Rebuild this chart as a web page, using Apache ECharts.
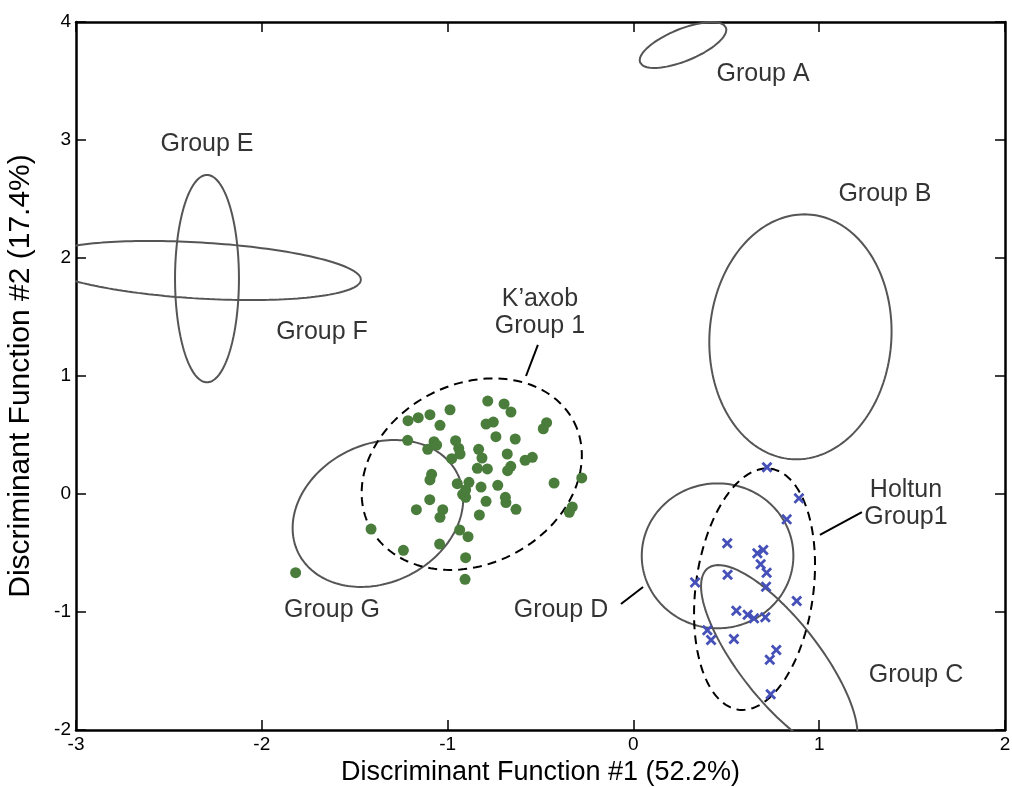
<!DOCTYPE html>
<html>
<head>
<meta charset="utf-8">
<script src="https://cdn.jsdelivr.net/npm/echarts@6/dist/echarts.min.js"></script>
<style>
  html, body { margin: 0; padding: 0; background: #fff; }
  #chart { width: 1012px; height: 787px; }
</style>
</head>
<body>
<div id="chart"></div>
<script>
// K'axob Group 1 samples (green dots)
var kaxobX = [-0.784, -0.696, -0.659, -0.987, -1.095, -1.158, -1.213, -1.041, -0.793, -0.754,
  -0.467, -0.485, -1.215, -1.073, -1.059, -1.107, -0.957, -0.940, -0.933, -0.978,
  -0.740, -0.636, -0.833, -0.815, -0.679, -0.583, -0.544, -0.840, -0.786, -0.660,
  -0.677, -1.086, -1.095, -0.948, -0.885, -0.903, -0.820, -0.730, -0.427, -0.278,
  -0.919, -0.903, -0.793, -0.689, -0.686, -0.632, -1.096, -1.168, -1.026, -1.041,
  -0.829, -0.329, -0.345, -1.412, -0.935, -0.890, -1.238, -1.043, -0.903, -0.906, -1.818];
var kaxobY = [0.788, 0.763, 0.695, 0.714, 0.672, 0.647, 0.621, 0.582, 0.593, 0.610,
  0.604, 0.553, 0.455, 0.443, 0.415, 0.379, 0.452, 0.387, 0.339, 0.299,
  0.486, 0.466, 0.379, 0.305, 0.339, 0.285, 0.311, 0.218, 0.212, 0.235,
  0.198, 0.167, 0.119, 0.087, 0.099, 0.034, 0.059, 0.074, 0.093, 0.136,
  -0.003, -0.028, -0.062, -0.028, -0.073, -0.130, -0.048, -0.133, -0.133, -0.198,
  -0.178, -0.110, -0.155, -0.297, -0.305, -0.362, -0.477, -0.424, -0.540, -0.723, -0.667];

// Holtun Group1 samples (blue crosses)
var holtunX = [0.719, 0.891, 0.825, 0.505, 0.667, 0.699, 0.685, 0.717, 0.507, 0.332, 0.714,
  0.879, 0.554, 0.615, 0.649, 0.710, 0.398, 0.418, 0.541, 0.769, 0.734, 0.739];
var holtunY = [0.226, -0.037, -0.215, -0.418, -0.503, -0.475, -0.596, -0.667, -0.684, -0.749, -0.785,
  -0.907, -0.989, -1.023, -1.054, -1.045, -1.155, -1.237, -1.229, -1.322, -1.404, -1.697];

// confidence ellipses: centre + two conjugate semi-axis vectors (data units)
var ellNames  = ['A', 'B', 'C', 'D', 'E', 'F', 'G', 'Kaxob', 'Holtun'];
var ellCx     = [0.267, 0.899, 0.785, 0.453, -2.295, -2.333, -1.375, -0.870, 0.652];
var ellCy     = [3.805, 1.332, -1.405, -0.524, 1.825, 1.894, -0.165, 0.168, -0.807];
var ellUx     = [0.231, 0.0215, 0.385, 0.408, 0.172, 0.867, 0.428, 0.549, 0.0861];
var ellUy     = [0.148, 1.038, -0.775, 0, 0, -0.0805, 0.336, 0.447, 1.021];
var ellVx     = [0.032, 0.490, -0.170, 0, 0, -0.0089, 0.166, 0.223, 0.314];
var ellVy     = [-0.126, 0, -0.209, 0.614, 0.879, -0.237, -0.524, -0.677, -0.065];
var ellDashed = [false, false, false, false, false, false, false, true, true];

// group labels
var labelText = ['Group A', 'Group B', 'Group C', 'Group D', 'Group E', 'Group F', 'Group G', 'K\u2019axob\nGroup 1', 'Holtun\nGroup1'];
var labelX = [0.698, 1.354, 1.521, -0.390, -2.295, -1.676, -1.622, -0.503, 1.467];
var labelY = [3.559, 2.542, -1.534, -0.983, 2.966, 1.373, -0.983, 1.534, -0.085];

// leader lines [x1, y1, x2, y2]
var leaders = [
  [-0.514, 1.263, -0.578, 1.0],
  [1.004, -0.347, 1.230, -0.153],
  [-0.067, -0.932, 0.052, -0.788]
];

var xTicks = [-3, -2, -1, 0, 1, 2];
var yTicks = [-2, -1, 0, 1, 2, 3, 4];

function ellipsePoints(i) {
  var pts = [];
  var n = 180;
  for (var k = 0; k <= n; k++) {
    var t = 2 * Math.PI * k / n;
    pts.push([
      ellCx[i] + ellUx[i] * Math.cos(t) + ellVx[i] * Math.sin(t),
      ellCy[i] + ellUy[i] * Math.cos(t) + ellVy[i] * Math.sin(t)
    ]);
  }
  return pts;
}

var font = 'Liberation Sans, Arial, Helvetica, sans-serif';
var series = [];

ellNames.forEach(function (name, i) {
  series.push({
    name: name,
    type: 'line',
    data: ellipsePoints(i),
    showSymbol: false,
    smooth: false,
    clip: true,
    silent: true,
    lineStyle: ellDashed[i]
      ? { color: '#000', width: 2, type: [9, 6] }
      : { color: '#555', width: 2 }
  });
});

leaders.forEach(function (l) {
  series.push({
    type: 'line',
    data: [[l[0], l[1]], [l[2], l[3]]],
    showSymbol: false,
    silent: true,
    lineStyle: { color: '#000', width: 2 }
  });
});

series.push({
  name: 'Kaxob',
  type: 'scatter',
  data: kaxobX.map(function (x, i) { return [x, kaxobY[i]]; }),
  symbol: 'circle',
  symbolSize: 11,
  itemStyle: { color: '#4a7d3b', opacity: 1 },
  z: 5
});

series.push({
  name: 'Holtun',
  type: 'scatter',
  data: holtunX.map(function (x, i) { return [x, holtunY[i]]; }),
  symbol: 'path://M0,1.8 L1.8,0 L5,3.2 L8.2,0 L10,1.8 L6.8,5 L10,8.2 L8.2,10 L5,6.8 L1.8,10 L0,8.2 L3.2,5 Z',
  symbolSize: 11,
  itemStyle: { color: '#4550b8', opacity: 1 },
  z: 5
});

series.push({
  type: 'scatter',
  data: labelX.map(function (x, i) { return { value: [x, labelY[i]], label: { formatter: labelText[i] } }; }),
  symbolSize: 0,
  silent: true,
  label: {
    show: true,
    position: 'inside',
    color: '#000',
    fontFamily: font,
    fontSize: 25,
    lineHeight: 27,
    align: 'center',
    verticalAlign: 'middle'
  },
  z: 6
});

var tickAxisBase = {
  type: 'value',
  splitLine: { show: false },
  axisLine: { show: true, onZero: false, lineStyle: { color: '#000', width: 2.5 } },
  axisTick: { show: true, inside: true, length: 10, lineStyle: { color: '#000', width: 1.5 } }
};

var option = {
  animation: false,
  backgroundColor: '#fff',
  grid: { left: 76, top: 22, right: 7, bottom: 57, containLabel: false, outerBoundsMode: 'none' },
  xAxis: [
    Object.assign({}, tickAxisBase, {
      min: xTicks[0], max: xTicks[xTicks.length - 1], interval: 1,
      position: 'bottom',
      name: 'Discriminant Function #1 (52.2%)',
      nameLocation: 'middle',
      nameGap: 28,
      nameTextStyle: { color: '#000', fontFamily: font, fontSize: 27 },
      axisLabel: { color: '#000', fontFamily: font, fontSize: 19, margin: 5 }
    }),
    Object.assign({}, tickAxisBase, {
      min: xTicks[0], max: xTicks[xTicks.length - 1], interval: 1,
      position: 'top',
      axisLabel: { show: false }
    })
  ],
  yAxis: [
    Object.assign({}, tickAxisBase, {
      min: yTicks[0], max: yTicks[yTicks.length - 1], interval: 1,
      position: 'left',
      name: 'Discriminant Function #2 (17.4%)',
      nameLocation: 'middle',
      nameGap: 40,
      nameTextStyle: { color: '#000', fontFamily: font, fontSize: 30 },
      axisLabel: { color: '#000', fontFamily: font, fontSize: 19, margin: 5 }
    }),
    Object.assign({}, tickAxisBase, {
      min: yTicks[0], max: yTicks[yTicks.length - 1], interval: 1,
      position: 'right',
      axisLabel: { show: false }
    })
  ],
  series: series
};

var chart = echarts.init(document.getElementById('chart'), null, { renderer: 'canvas' });
chart.setOption(option);
</script>
</body>
</html>
